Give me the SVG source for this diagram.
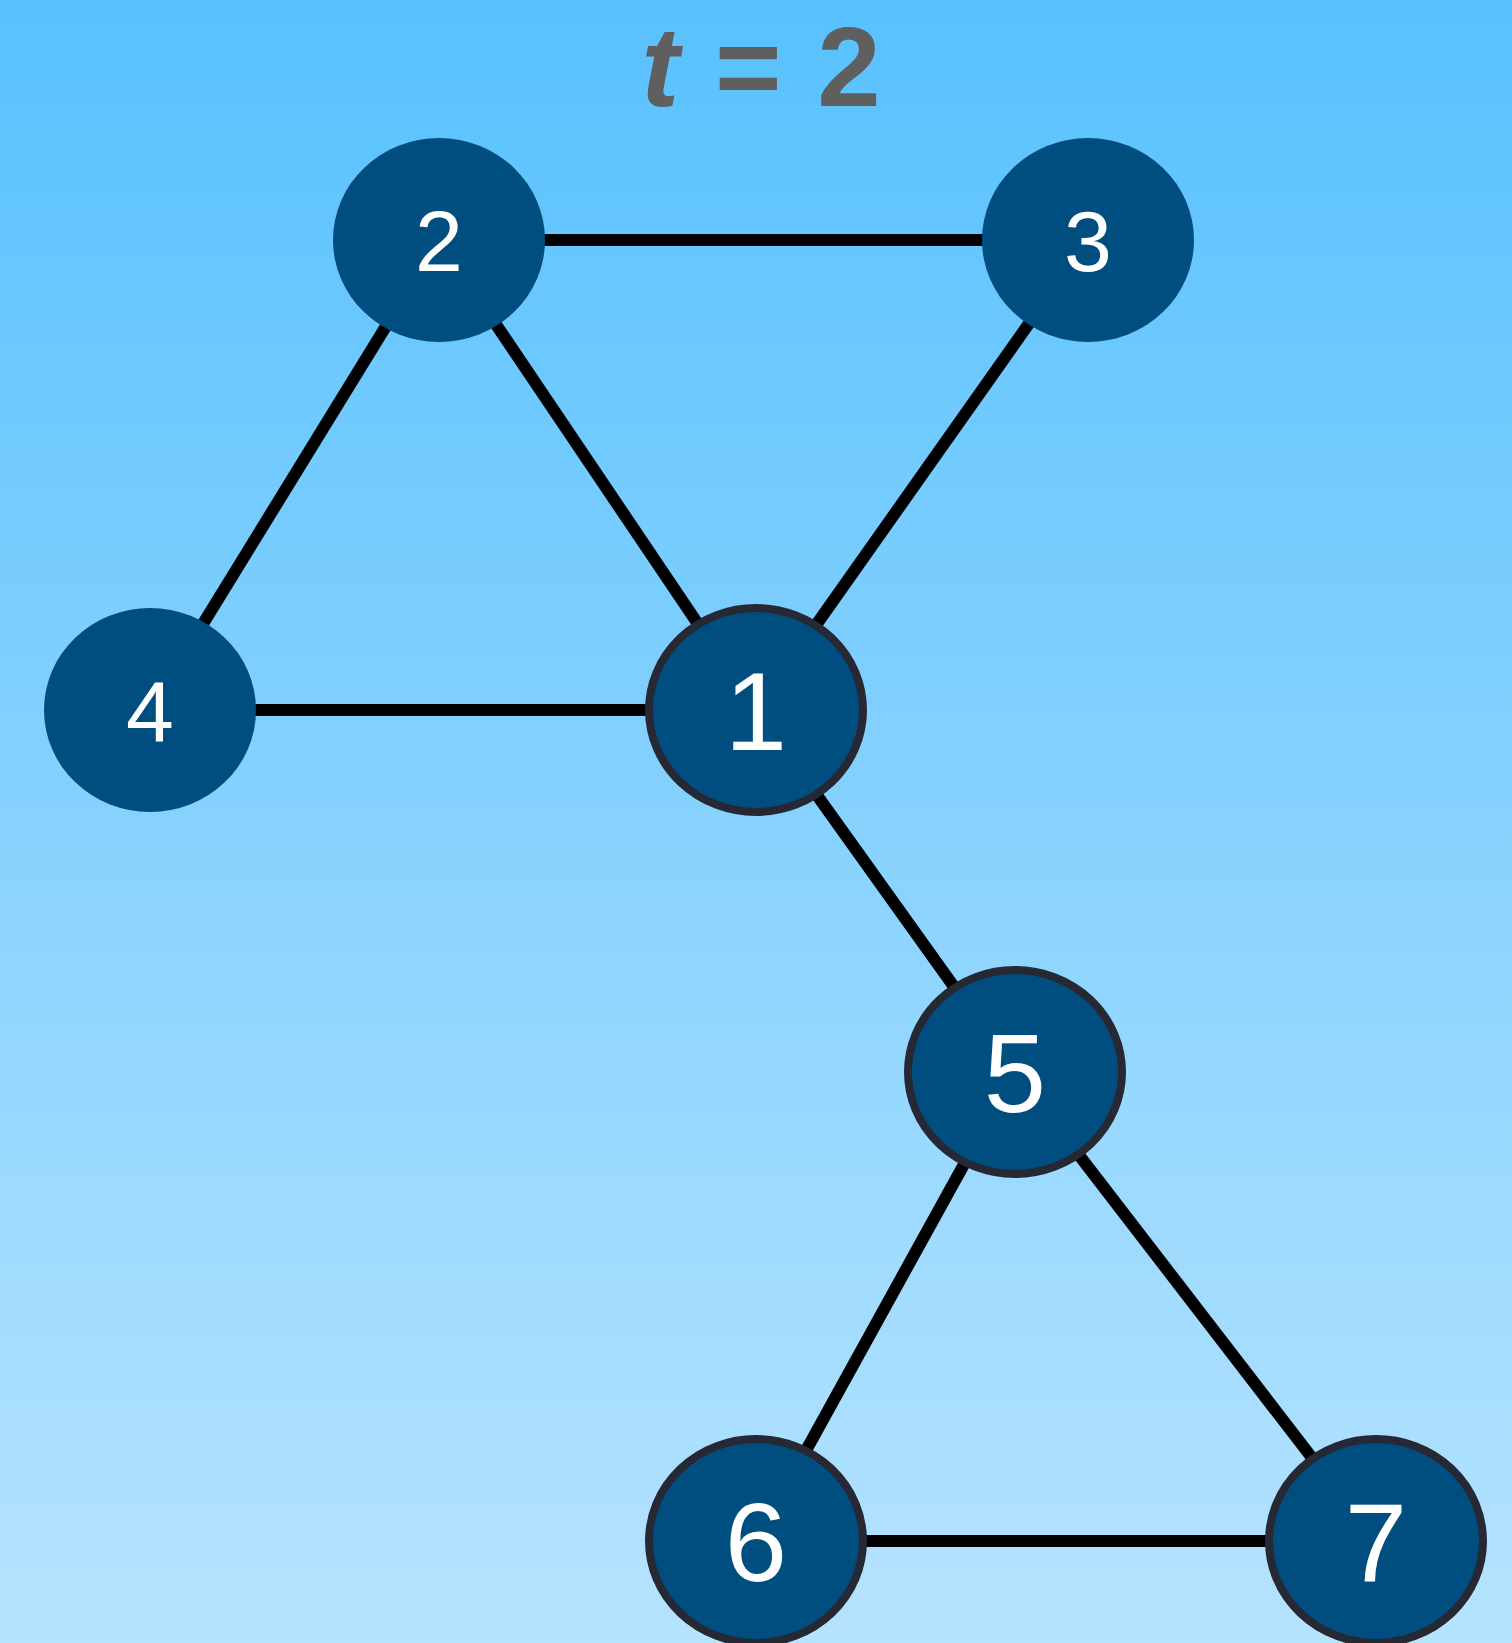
<svg xmlns="http://www.w3.org/2000/svg" width="1512" height="1643" viewBox="0 0 1512 1643">
  <defs>
    <linearGradient id="bg" x1="0" y1="0" x2="0" y2="1">
      <stop offset="0" stop-color="#58c1fe"/>
      <stop offset="1" stop-color="#b6e3fe"/>
    </linearGradient>
    <style>
      .edge { stroke: #000000; stroke-width: 12; fill: none; }
      .node { fill: #004e80; }
      .hl { stroke: #262834; stroke-width: 8; }
      .lbl { font-family: "Liberation Sans", Arial, sans-serif; fill: #ffffff; text-anchor: middle; }
      .sm { font-size: 86px; }
      .lg { font-size: 112px; }
    </style>
  </defs>
  <rect x="0" y="0" width="1512" height="1643" fill="url(#bg)"/>
  <text x="762" y="106" font-family="Liberation Sans, Arial, sans-serif" font-weight="bold" font-size="114" letter-spacing="2" fill="#5f5f5f" text-anchor="middle"><tspan font-style="italic">t</tspan> = 2</text>
  <g id="edges">
    <line class="edge" x1="439" y1="240" x2="1088" y2="240"/>
    <line class="edge" x1="439" y1="240" x2="150" y2="710"/>
    <line class="edge" x1="439" y1="240" x2="756" y2="710"/>
    <line class="edge" x1="1088" y1="240" x2="756" y2="710"/>
    <line class="edge" x1="150" y1="710" x2="756" y2="710"/>
    <line class="edge" x1="756" y1="710" x2="1015" y2="1072"/>
    <line class="edge" x1="1015" y1="1072" x2="756" y2="1541"/>
    <line class="edge" x1="1015" y1="1072" x2="1376" y2="1541"/>
    <line class="edge" x1="756" y1="1541" x2="1376" y2="1541"/>
  </g>
  <g id="node2">
    <ellipse class="node" cx="439" cy="240" rx="106" ry="102"/>
    <text class="lbl sm" x="439" y="271">2</text>
  </g>
  <g id="node3">
    <ellipse class="node" cx="1088" cy="240" rx="106" ry="102"/>
    <text class="lbl sm" x="1088" y="271">3</text>
  </g>
  <g id="node4">
    <ellipse class="node" cx="150" cy="710" rx="106" ry="102"/>
    <text class="lbl sm" x="150" y="741">4</text>
  </g>
  <g id="node1">
    <ellipse class="node hl" cx="756" cy="710" rx="107" ry="102"/>
    <text class="lbl lg" x="756" y="750">1</text>
  </g>
  <g id="node5">
    <ellipse class="node hl" cx="1015" cy="1072" rx="107" ry="102"/>
    <text class="lbl lg" x="1015" y="1112">5</text>
  </g>
  <g id="node6">
    <ellipse class="node hl" cx="756" cy="1541" rx="107" ry="102"/>
    <text class="lbl lg" x="756" y="1581">6</text>
  </g>
  <g id="node7">
    <ellipse class="node hl" cx="1376" cy="1541" rx="107" ry="102"/>
    <text class="lbl lg" x="1376" y="1581">7</text>
  </g>
</svg>
